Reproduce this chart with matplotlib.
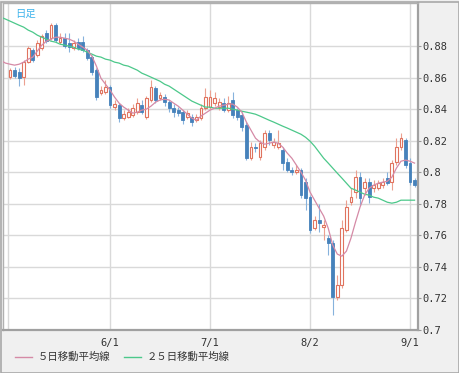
import matplotlib
matplotlib.use("Agg")
import matplotlib.pyplot as plt
from matplotlib.patches import Rectangle
from matplotlib.lines import Line2D
import numpy as np

# daily candles (trading-day index 0..89)
opens = [0.8603, 0.8647, 0.8635, 0.8603, 0.8698, 0.8774, 0.8742, 0.8787, 0.8882, 0.8850,
         0.8932, 0.8825, 0.8850, 0.8818, 0.8787, 0.8825, 0.8825, 0.8774, 0.8730, 0.8647,
         0.8501, 0.8508, 0.8539, 0.8413, 0.8425, 0.8343, 0.8349, 0.8362, 0.8381, 0.8425,
         0.8349, 0.8458, 0.8533, 0.8470, 0.8476, 0.8444, 0.8406, 0.8394, 0.8381, 0.8349,
         0.8349, 0.8330, 0.8343, 0.8406, 0.8413, 0.8438, 0.8413, 0.8438, 0.8394, 0.8458,
         0.8394, 0.8362, 0.8299, 0.8089, 0.8159, 0.8096, 0.8159, 0.8248, 0.8172, 0.8159,
         0.8141, 0.8064, 0.8014, 0.8001, 0.8014, 0.7937, 0.7842, 0.7646, 0.7697, 0.7652,
         0.7582, 0.7550, 0.7208, 0.7284, 0.7633, 0.7811, 0.7874, 0.7969, 0.7899, 0.7937,
         0.7899, 0.7899, 0.7918, 0.7963, 0.7937, 0.8064, 0.8159, 0.8204, 0.8058, 0.7950]
highs = [0.8660, 0.8666, 0.8660, 0.8711, 0.8799, 0.8787, 0.8838, 0.8875, 0.8901, 0.8945,
         0.8945, 0.8882, 0.8882, 0.8882, 0.8838, 0.8850, 0.8863, 0.8787, 0.8742, 0.8660,
         0.8546, 0.8584, 0.8552, 0.8458, 0.8438, 0.8394, 0.8406, 0.8432, 0.8470, 0.8458,
         0.8482, 0.8584, 0.8546, 0.8508, 0.8495, 0.8458, 0.8432, 0.8413, 0.8394, 0.8394,
         0.8368, 0.8368, 0.8432, 0.8533, 0.8521, 0.8508, 0.8470, 0.8470, 0.8482, 0.8508,
         0.8406, 0.8381, 0.8318, 0.8191, 0.8185, 0.8204, 0.8267, 0.8267, 0.8216, 0.8267,
         0.8159, 0.8089, 0.8032, 0.8045, 0.8026, 0.7963, 0.7855, 0.7722, 0.7798, 0.7697,
         0.7601, 0.7570, 0.7348, 0.7697, 0.7824, 0.7900, 0.8014, 0.8001, 0.7963, 0.7963,
         0.7950, 0.7950, 0.7963, 0.8001, 0.8077, 0.8216, 0.8248, 0.8216, 0.8089, 0.7963]
lows = [0.8590, 0.8596, 0.8546, 0.8552, 0.8692, 0.8698, 0.8730, 0.8774, 0.8818, 0.8838,
        0.8825, 0.8812, 0.8787, 0.8761, 0.8774, 0.8774, 0.8761, 0.8711, 0.8616, 0.8458,
        0.8489, 0.8495, 0.8406, 0.8394, 0.8318, 0.8331, 0.8343, 0.8349, 0.8368, 0.8368,
        0.8337, 0.8444, 0.8438, 0.8458, 0.8419, 0.8381, 0.8349, 0.8356, 0.8305, 0.8337,
        0.8292, 0.8318, 0.8331, 0.8394, 0.8400, 0.8419, 0.8394, 0.8381, 0.8381, 0.8343,
        0.8331, 0.8261, 0.8077, 0.8077, 0.8128, 0.8077, 0.8141, 0.8172, 0.8153, 0.8147,
        0.8014, 0.8001, 0.7982, 0.7988, 0.7836, 0.7760, 0.7614, 0.7633, 0.7620, 0.7570,
        0.7474, 0.7094, 0.7189, 0.7265, 0.7620, 0.7792, 0.7836, 0.7792, 0.7855, 0.7804,
        0.7874, 0.7887, 0.7899, 0.7918, 0.7887, 0.8045, 0.8141, 0.8026, 0.7918, 0.7906]
closes = [0.8647, 0.8609, 0.8596, 0.8698, 0.8787, 0.8711, 0.8818, 0.8863, 0.8831, 0.8932,
          0.8838, 0.8850, 0.8799, 0.8793, 0.8818, 0.8787, 0.8774, 0.8723, 0.8635, 0.8476,
          0.8521, 0.8539, 0.8425, 0.8432, 0.8343, 0.8368, 0.8381, 0.8406, 0.8438, 0.8381,
          0.8470, 0.8539, 0.8458, 0.8489, 0.8444, 0.8406, 0.8381, 0.8375, 0.8331, 0.8375,
          0.8318, 0.8349, 0.8406, 0.8476, 0.8476, 0.8470, 0.8444, 0.8394, 0.8438, 0.8362,
          0.8349, 0.8286, 0.8089, 0.8159, 0.8153, 0.8185, 0.8248, 0.8204, 0.8191, 0.8185,
          0.8058, 0.8014, 0.8001, 0.8014, 0.7855, 0.7836, 0.7633, 0.7697, 0.7677, 0.7665,
          0.7550, 0.7208, 0.7284, 0.7646, 0.7779, 0.7842, 0.7969, 0.7836, 0.7937, 0.7842,
          0.7918, 0.7931, 0.7937, 0.7931, 0.8058, 0.8159, 0.8216, 0.8045, 0.7937, 0.7918]

# moving averages (index -2..89, first point sits at the left edge)
ma5 = [0.8708, 0.8692, 0.8685, 0.8679, 0.8685, 0.8698, 0.8717, 0.8730, 0.8768, 0.8806, 0.8831, 0.8844,
       0.8856, 0.8856, 0.8850, 0.8844, 0.8831, 0.8812, 0.8793, 0.8774, 0.8736, 0.8673,
       0.8596, 0.8558, 0.8521, 0.8476, 0.8438, 0.8413, 0.8394, 0.8375, 0.8381, 0.8394,
       0.8400, 0.8419, 0.8444, 0.8458, 0.8463, 0.8458, 0.8438, 0.8419, 0.8394, 0.8368,
       0.8343, 0.8330, 0.8356, 0.8375, 0.8394, 0.8406, 0.8419, 0.8425, 0.8432, 0.8432,
       0.8413, 0.8381, 0.8318, 0.8267, 0.8216, 0.8191, 0.8178, 0.8184, 0.8191, 0.8184,
       0.8159, 0.8121, 0.8089, 0.8045, 0.8001, 0.7950, 0.7874, 0.7823, 0.7772, 0.7722,
       0.7645, 0.7538, 0.7481, 0.7468, 0.7500, 0.7582, 0.7684, 0.7779, 0.7855, 0.7899,
       0.7918, 0.7931, 0.7937, 0.7943, 0.7969, 0.8026, 0.8070, 0.8077, 0.8070, 0.8058]
ma25 = [0.8983, 0.8971, 0.8958, 0.8945, 0.8932, 0.8920, 0.8901, 0.8888, 0.8869, 0.8856, 0.8844, 0.8831,
        0.8825, 0.8812, 0.8806, 0.8799, 0.8793, 0.8780, 0.8774, 0.8761, 0.8749, 0.8736,
        0.8730, 0.8717, 0.8711, 0.8698, 0.8692, 0.8679, 0.8673, 0.8660, 0.8647, 0.8628,
        0.8616, 0.8603, 0.8590, 0.8577, 0.8558, 0.8546, 0.8527, 0.8508, 0.8489, 0.8470,
        0.8451, 0.8438, 0.8425, 0.8413, 0.8413, 0.8406, 0.8406, 0.8406, 0.8406, 0.8400,
        0.8394, 0.8387, 0.8381, 0.8375, 0.8368, 0.8356, 0.8343, 0.8330, 0.8318, 0.8305,
        0.8292, 0.8280, 0.8267, 0.8254, 0.8241, 0.8222, 0.8197, 0.8165, 0.8127, 0.8089,
        0.8058, 0.8026, 0.7994, 0.7963, 0.7931, 0.7899, 0.7887, 0.7874, 0.7861, 0.7855,
        0.7842, 0.7836, 0.7823, 0.7810, 0.7804, 0.7810, 0.7823, 0.7823, 0.7823, 0.7823]

date_pos = [22, 44, 66, 88]
date_labels = ["6/1", "7/1", "8/2", "9/1"]
y_ticks = [0.7, 0.72, 0.74, 0.76, 0.78, 0.8, 0.82, 0.84, 0.86, 0.88]
y_labels = ["0.7", "0.72", "0.74", "0.76", "0.78", "0.8", "0.82", "0.84", "0.86", "0.88"]

UP_C = "#e0735e"
UP_W = "#eca090"
DN_C = "#4682bb"
DN_W = "#86b2dc"
MA5_C = "#d58aa6"
MA25_C = "#4cc88a"
GRID_C = "#d9d9d9"
JP = ["Noto Sans CJK JP", "DejaVu Sans"]

fig = plt.figure(figsize=(4.6, 3.73), dpi=100)
fig.patch.set_facecolor("#f0f0f0")
fig.patches.append(Rectangle((0.5 / 460, 0.5 / 373), 458.5 / 460, 371 / 373,
                             transform=fig.transFigure, fill=False,
                             edgecolor="#a8a8a8", linewidth=1.2))

ax = fig.add_axes([3 / 460, 43 / 373, 415 / 460, 327 / 373])
ax.set_facecolor("white")

x = np.arange(len(closes))
o = np.array(opens)
c = np.array(closes)
h = np.array(highs)
l = np.array(lows)
up = c >= o

# grid
for yt in y_ticks[1:]:
    ax.axhline(yt, color=GRID_C, lw=1.0, zorder=0)
for xp in [-0.45] + date_pos:
    ax.axvline(xp, color=GRID_C, lw=1.0, zorder=0)

# wicks
ax.vlines(x[up], l[up], h[up], color=UP_W, lw=0.8, zorder=2)
ax.vlines(x[~up], l[~up], h[~up], color=DN_W, lw=0.8, zorder=2)

# bodies
w = 0.62
body_lo = np.minimum(o, c)
body_h = np.maximum(np.abs(c - o), 0.0004)
ax.bar(x[up], body_h[up], bottom=body_lo[up], width=w, facecolor="white",
       edgecolor=UP_C, linewidth=0.8, zorder=3)
ax.bar(x[~up], body_h[~up], bottom=body_lo[~up], width=w, facecolor=DN_C,
       edgecolor=DN_C, linewidth=0.6, zorder=3)

# moving averages
ma_x = np.arange(-2, len(closes))
ax.plot(ma_x, ma25, color=MA25_C, lw=0.9, zorder=4)
ax.plot(ma_x, ma5, color=MA5_C, lw=0.9, zorder=4)

ax.set_xlim(-1.55, 89.75)
ax.set_ylim(0.7, 0.9073)

ax.yaxis.tick_right()
ax.set_yticks(y_ticks)
ax.set_yticklabels(y_labels, family="DejaVu Sans Mono", fontsize=7.5, color="#333333")
ax.set_xticks(date_pos)
ax.set_xticklabels(date_labels, family="DejaVu Sans Mono", fontsize=7.5, color="#333333")
ax.tick_params(axis="y", length=2, width=0.8, color="#999999", pad=1)
ax.tick_params(axis="x", length=0, pad=6)

for side in ["left", "top"]:
    ax.spines[side].set_color("#b0b0b0")
    ax.spines[side].set_linewidth(1.0)
for side in ["right", "bottom"]:
    ax.spines[side].set_color("#a0a0a0")
    ax.spines[side].set_linewidth(1.6)

ax.text(12 / 415, 1 - 11 / 327, "日足", transform=ax.transAxes, family=JP,
        fontsize=7.5, color="#40b4ec", va="center", ha="left")

# legend row
ly = 1 - 357 / 373
fig.lines.append(Line2D([15 / 460, 32 / 460], [ly, ly], color=MA5_C, lw=1.0,
                        transform=fig.transFigure))
fig.text(38 / 460, ly, "５日移動平均線", family=JP, fontsize=7.5, color="#333333",
         va="center", ha="left")
fig.lines.append(Line2D([124 / 460, 141 / 460], [ly, ly], color=MA25_C, lw=1.0,
                        transform=fig.transFigure))
fig.text(147 / 460, ly, "２５日移動平均線", family=JP, fontsize=7.5, color="#333333",
         va="center", ha="left")

fig.savefig("out.png", dpi=100, facecolor=fig.get_facecolor())
